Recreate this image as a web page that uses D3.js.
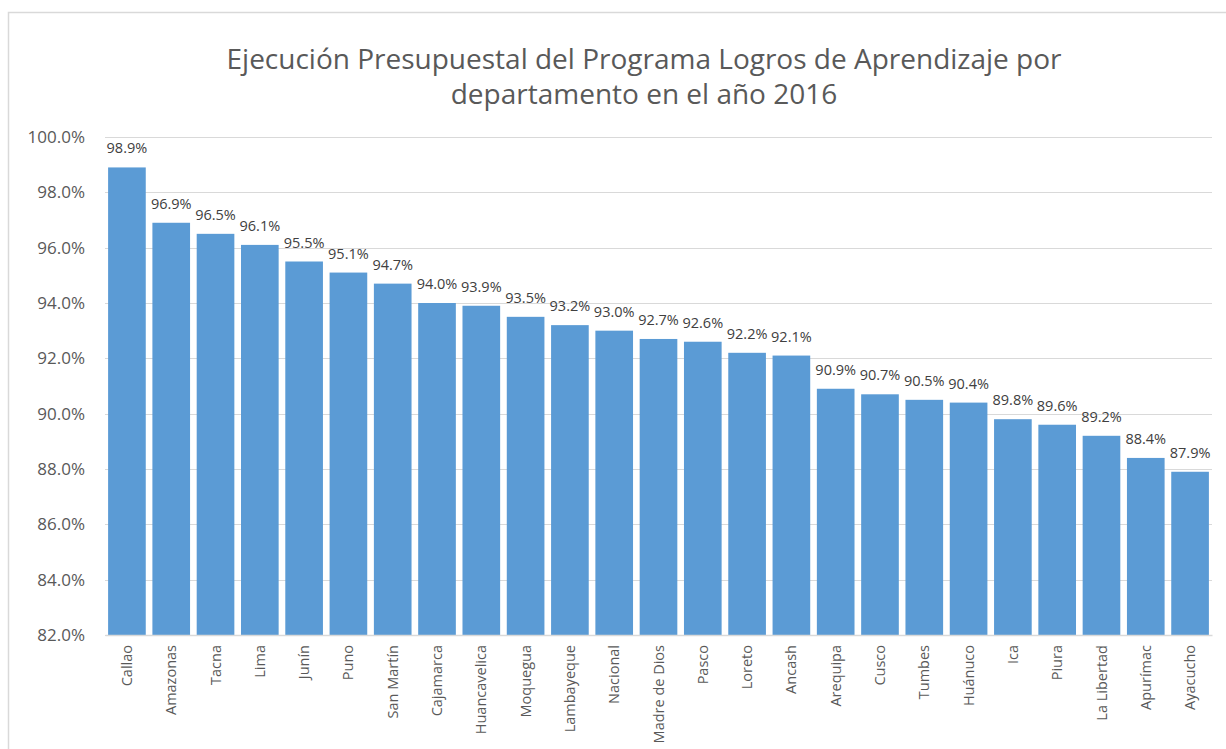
<!DOCTYPE html>
<html>
<head>
<meta charset="utf-8">
<script src="https://cdn.jsdelivr.net/npm/d3@7"></script>
<style>
body { margin: 0; background: #fff; }
svg { display: block; font-family: "Open Sans", sans-serif; }
</style>
</head>
<body>
<div id="chart"></div>
<script>
/* Data */
var departamentos = ["Callao", "Amazonas", "Tacna", "Lima", "Junín", "Puno", "San Martín", "Cajamarca",
	"Huancavelica", "Moquegua", "Lambayeque", "Nacional", "Madre de Dios", "Pasco", "Loreto", "Ancash",
	"Arequipa", "Cusco", "Tumbes", "Huánuco", "Ica", "Piura", "La Libertad", "Apurímac", "Ayacucho"];
var ejecucion = [98.9, 96.9, 96.5, 96.1, 95.5, 95.1, 94.7, 94.0, 93.9, 93.5, 93.2, 93.0, 92.7, 92.6,
	92.2, 92.1, 90.9, 90.7, 90.5, 90.4, 89.8, 89.6, 89.2, 88.4, 87.9];
var yTicks = [82, 84, 86, 88, 90, 92, 94, 96, 98, 100];
var titulo = ["Ejecución Presupuestal del Programa Logros de Aprendizaje por", "departamento en el año 2016"];

var width = 1226, height = 749;
var margin = {left: 105, right: 14, top: 137, bottom: 114};

var svg = d3.select("#chart").append("svg")
	.attr("width", width)
	.attr("height", height);

// chart frame
svg.append("rect")
	.attr("x", 8.5).attr("y", 12.5)
	.attr("width", width + 20).attr("height", height + 20)
	.attr("fill", "none").attr("stroke", "#d9d9d9").attr("stroke-width", 1.5);

var x = d3.scaleBand()
	.domain(departamentos)
	.range([margin.left, width - margin.right])
	.paddingInner(0.15).paddingOuter(0.07);

var y = d3.scaleLinear()
	.domain([82, 100])
	.range([height - margin.bottom, margin.top]);

// gridlines
svg.append("g").selectAll("line")
	.data(yTicks)
	.enter().append("line")
	.attr("x1", margin.left).attr("x2", width - margin.right)
	.attr("y1", function(d) { return Math.round(y(d)) + 0.5; })
	.attr("y2", function(d) { return Math.round(y(d)) + 0.5; })
	.attr("stroke", "#d9d9d9").attr("stroke-width", 1);

// y axis labels
var yAxis = d3.axisLeft(y).tickValues(yTicks).tickSize(0).tickPadding(20)
	.tickFormat(function(d) { return d.toFixed(1) + "%"; });
var gy = svg.append("g")
	.attr("transform", "translate(" + margin.left + ",0)")
	.call(yAxis);
gy.select(".domain").remove();
gy.selectAll("text").attr("fill", "#595959").style("font-size", "17px")
	.style("font-family", "'Open Sans', sans-serif");

// bars
svg.append("g").selectAll("rect")
	.data(ejecucion)
	.enter().append("rect")
	.attr("x", function(d, i) { return x(departamentos[i]); })
	.attr("y", function(d) { return y(d); })
	.attr("width", x.bandwidth())
	.attr("height", function(d) { return y(82) - y(d); })
	.attr("fill", "#5b9bd5");

// value labels
svg.append("g").selectAll("text")
	.data(ejecucion)
	.enter().append("text")
	.attr("x", function(d, i) { return x(departamentos[i]) + x.bandwidth() / 2; })
	.attr("y", function(d) { return y(d) - 14; })
	.attr("text-anchor", "middle")
	.attr("fill", "#404040")
	.style("font-size", "14.5px")
	.text(function(d) { return d.toFixed(1) + "%"; });

// x axis
var xAxis = d3.axisBottom(x).tickSize(0).tickPadding(0);
var gx = svg.append("g")
	.attr("transform", "translate(0," + (height - margin.bottom) + ")")
	.call(xAxis);
gx.select(".domain").attr("stroke", "#d9d9d9").attr("stroke-width", 1.5);
gx.selectAll("text")
	.attr("fill", "#595959")
	.style("font-size", "14.5px")
	.style("font-family", "'Open Sans', sans-serif")
	.attr("text-anchor", "end")
	.attr("dy", "0.35em")
	.attr("transform", "translate(0,10) rotate(-90)")
	.attr("x", 0).attr("y", 0);

// title
svg.append("text")
	.attr("text-anchor", "middle")
	.attr("fill", "#595959")
	.style("font-size", "28px")
	.selectAll("tspan")
	.data(titulo)
	.enter().append("tspan")
	.attr("x", 644)
	.attr("y", function(d, i) { return 69 + i * 35; })
	.text(function(d) { return d; });
</script>
</body>
</html>
